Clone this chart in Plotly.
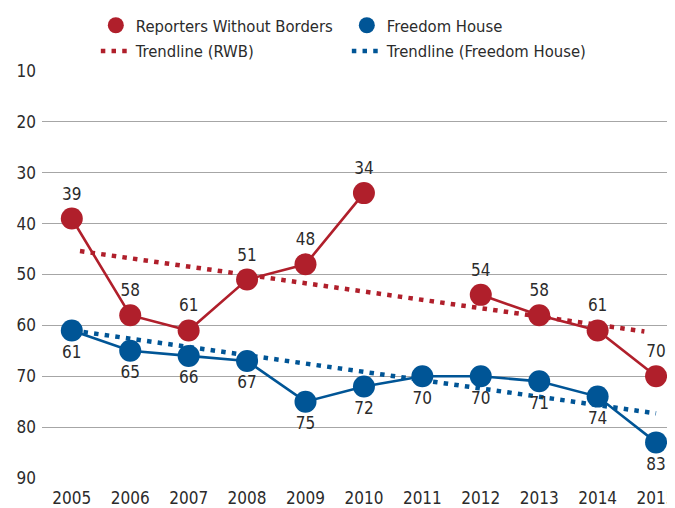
import plotly.graph_objects as go

years = [2005, 2006, 2007, 2008, 2009, 2010, 2011, 2012, 2013, 2014, 2015]
rwb = [39, 58, 61, 51, 48, 34, None, 54, 58, 61, 70]
fh = [61, 65, 66, 67, 75, 72, 70, 70, 71, 74, 83]

rwb_trend_x = [2005.14, 2014.8]
rwb_trend_y = [45.4, 61.2]
fh_trend_x = [2005.2, 2015.0]
fh_trend_y = [61.3, 77.3]

y_ticks = [10, 20, 30, 40, 50, 60, 70, 80, 90]

RED = "#B01F2B"
BLUE = "#005596"
TXT = "#2b2b2b"
FONT = "Liberation Sans Narrow, Arial Narrow, DejaVu Sans Condensed, sans-serif"
DOTS = "4.5px,6.2px"

fig = go.Figure()

# legend-only entries (circle without line, as in the reference legend)
fig.add_trace(go.Scatter(
    x=[None], y=[None], mode="markers", name="Reporters Without Borders",
    marker=dict(color=RED, size=19), legend="legend"))
fig.add_trace(go.Scatter(
    x=[None], y=[None], mode="markers", name="Freedom House",
    marker=dict(color=BLUE, size=19), legend="legend"))

fig.add_trace(go.Scatter(
    x=rwb_trend_x, y=rwb_trend_y, mode="lines", name="Trendline (RWB)",
    line=dict(color=RED, width=4.5, dash=DOTS), legend="legend2",
    hoverinfo="skip"))
fig.add_trace(go.Scatter(
    x=fh_trend_x, y=fh_trend_y, mode="lines", name="Trendline (Freedom House)",
    line=dict(color=BLUE, width=4.5, dash=DOTS), legend="legend2",
    hoverinfo="skip"))

fig.add_trace(go.Scatter(
    x=years, y=rwb, mode="lines+markers+text", name="Reporters Without Borders",
    line=dict(color=RED, width=2.6), marker=dict(color=RED, size=22),
    text=[("" if v is None else str(v)) for v in rwb], textposition="top center",
    textfont=dict(family=FONT, size=17, color=TXT), cliponaxis=False,
    connectgaps=False, showlegend=False))
fig.add_trace(go.Scatter(
    x=years, y=fh, mode="lines+markers+text", name="Freedom House",
    line=dict(color=BLUE, width=2.6), marker=dict(color=BLUE, size=22),
    text=[str(v) for v in fh], textposition="bottom center",
    textfont=dict(family=FONT, size=17, color=TXT), cliponaxis=False,
    showlegend=False))

legend_common = dict(
    orientation="h", xanchor="left", yanchor="middle",
    font=dict(family=FONT, size=16.5, color=TXT),
    bgcolor="rgba(0,0,0,0)", entrywidth=206, entrywidthmode="pixels",
    itemclick=False, itemdoubleclick=False, itemsizing="trace",
)

fig.update_layout(
    width=667, height=500,
    margin=dict(l=34, r=0, t=59, b=30),
    paper_bgcolor="white", plot_bgcolor="white",
    font=dict(family=FONT, size=17, color=TXT),
    showlegend=True,
    legend=dict(x=0.0853, y=1.112, traceorder="normal", **legend_common),
    legend2=dict(x=0.0853, y=1.0487, traceorder="normal", **legend_common),
    xaxis=dict(
        range=[2004.49, 2015.29], tickmode="array", tickvals=years,
        ticktext=[str(y) for y in years], showgrid=False, zeroline=False,
        showline=False, ticks="", ticklabelstandoff=8,
        ticklabeloverflow="allow",
        tickfont=dict(family=FONT, size=17, color=TXT),
    ),
    yaxis=dict(
        range=[90, 10], tickmode="array", tickvals=y_ticks,
        showgrid=True, gridcolor="#A6A6A6", gridwidth=1.3, zeroline=False,
        showline=False, ticks="", ticklabelstandoff=5,
        tickfont=dict(family=FONT, size=17, color=TXT),
    ),
)

fig.write_html("out.html")
